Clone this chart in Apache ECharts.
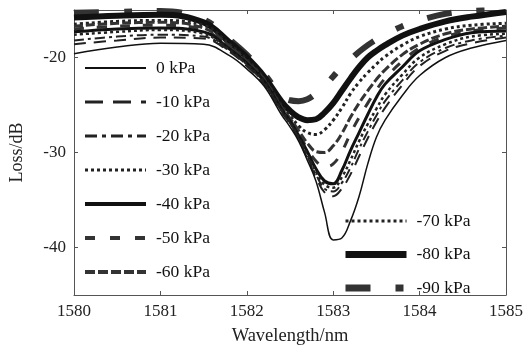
<!DOCTYPE html>
<html>
<head>
<meta charset="utf-8">
<script src="https://cdn.jsdelivr.net/npm/echarts@6/dist/echarts.min.js"></script>
<style>
  html, body { margin: 0; padding: 0; background: #fff; }
  #chart { width: 528px; height: 351px; }
</style>
</head>
<body>
<div id="chart"></div>
<script>
// wavelength points (nm), shared by all curves
const wavelength = [1580, 1580.5, 1581, 1581.5, 1581.8, 1582.0, 1582.2, 1582.4, 1582.5, 1582.6, 1582.7, 1582.8, 1582.9, 1583.0,
  1583.1, 1583.2, 1583.3, 1583.4, 1583.5, 1583.6, 1583.8, 1584.0, 1584.3, 1584.6, 1585];

// loss (dB), one array per pressure
const loss0 = [-19.6, -18.9, -18.5, -18.6, -19.8, -21.2, -23.0, -26.0, -27.3, -28.8, -30.8, -33.0, -36.3, -39.2,
  -39.0, -37.2, -34.6, -31.2, -28.4, -26.6, -24.0, -21.9, -20.0, -19.0, -18.2];
const loss10 = [-18.6, -18.2, -17.9, -18.0, -19.4, -20.9, -22.8, -25.7, -27.0, -28.6, -30.6, -32.6, -34.2, -34.6,
  -33.8, -32.3, -30.4, -28.5, -26.8, -25.3, -22.9, -20.9, -19.3, -18.5, -17.9];
const loss20 = [-18.2, -17.8, -17.6, -17.8, -19.3, -20.8, -22.7, -25.6, -26.9, -28.5, -30.4, -32.3, -33.8, -34.1,
  -33.2, -31.6, -29.6, -27.8, -26.1, -24.6, -22.4, -20.5, -19.0, -18.2, -17.7];
const loss30 = [-17.6, -17.3, -17.1, -17.5, -19.2, -20.7, -22.6, -25.5, -26.8, -28.4, -30.2, -32.0, -33.4, -33.7,
  -32.6, -30.8, -28.8, -27.0, -25.4, -23.9, -21.8, -20.0, -18.6, -17.8, -17.5];
const loss40 = [-17.3, -17.0, -16.9, -17.3, -19.1, -20.6, -22.5, -25.4, -26.7, -28.2, -29.9, -31.7, -33.0, -33.3,
  -31.9, -29.8, -27.9, -26.0, -24.2, -22.8, -21.0, -19.3, -18.1, -17.4, -17.2];
const loss50 = [-17.0, -16.7, -16.6, -17.1, -19.0, -20.5, -22.4, -25.3, -26.6, -28.0, -29.6, -30.9, -31.5, -31.2,
  -29.9, -28.0, -26.3, -24.8, -23.4, -22.2, -20.4, -19.0, -17.8, -17.2, -16.9];
const loss60 = [-16.7, -16.4, -16.3, -16.9, -18.8, -20.4, -22.3, -25.2, -26.4, -27.7, -29.0, -29.9, -30.0, -29.3,
  -28.0, -26.3, -24.8, -23.5, -22.3, -21.3, -19.7, -18.6, -17.5, -17.0, -16.7];
const loss70 = [-16.5, -16.2, -16.1, -16.6, -18.6, -20.2, -22.2, -25.0, -26.1, -27.2, -27.9, -28.1, -27.6, -26.6,
  -25.3, -23.8, -22.6, -21.6, -20.7, -19.9, -18.7, -17.8, -17.0, -16.6, -16.4];
const loss80 = [-15.8, -15.6, -15.5, -16.3, -18.4, -20.0, -22.0, -24.6, -25.6, -26.3, -26.6, -26.5, -25.8, -24.8,
  -23.5, -22.2, -21.0, -20.0, -19.3, -18.7, -17.7, -17.0, -16.2, -15.7, -15.2];
const loss90 = [-15.3, -15.2, -15.1, -16.0, -18.1, -19.7, -21.7, -24.0, -24.5, -24.6, -24.4, -23.8, -23.0, -22.0,
  -21.0, -20.2, -19.4, -18.7, -18.1, -17.6, -16.7, -16.1, -15.4, -15.1, -15.0];

const names = ['0 kPa', '-10 kPa', '-20 kPa', '-30 kPa', '-40 kPa', '-50 kPa', '-60 kPa', '-70 kPa', '-80 kPa', '-90 kPa'];
const lossData = [loss0, loss10, loss20, loss30, loss40, loss50, loss60, loss70, loss80, loss90];
const yTicks = [-40, -30, -20];

// line look for each curve (solid, dashed, dash-dot, dotted ...)
const lineLook = [
  { width: 1.5, type: 'solid', color: '#111' },
  { width: 2, type: [12, 8], color: '#222' },
  { width: 2, type: [10, 4, 3, 4], color: '#222' },
  { width: 2.5, type: [3, 3], color: '#222' },
  { width: 3, type: 'solid', color: '#111' },
  { width: 3, type: [10, 13], color: '#333' },
  { width: 3, type: [9, 3], color: '#333' },
  { width: 3, type: [3, 3], color: '#222' },
  { width: 6, type: 'solid', color: '#111' },
  { width: 6, type: [25, 25, 8, 25], color: '#333' }
];
// the legend draws its sample lines a bit heavier than the curves
const legendLook = [
  { width: 2, type: 'solid' },
  { width: 3, type: [18, 10] },
  { width: 3, type: [12, 5, 4, 5] },
  { width: 3, type: [3, 3] },
  { width: 4, type: 'solid' },
  { width: 4, type: [10, 15] },
  { width: 4, type: [10, 3] },
  { width: 3, type: [3, 3] },
  { width: 7, type: 'solid' },
  { width: 7, type: [25, 25, 8, 25] }
];

const serif = 'Liberation Serif';
const chart = echarts.init(document.getElementById('chart'), null, { renderer: 'canvas' });

const series = names.map(function (n, i) {
  return {
    name: n,
    type: 'line',
    data: wavelength.map(function (w, j) { return [w, lossData[i][j]]; }),
    smooth: 0.4,
    symbol: 'none',
    lineStyle: lineLook[i],
    // no marker in the legend, just the line
    itemStyle: { color: lineLook[i].color, opacity: 0 },
    z: 10 - i
  };
});

const legendItems = names.map(function (n, i) {
  return { name: n, lineStyle: legendLook[i] };
});

const legendBase = {
  orient: 'vertical',
  itemWidth: 61,
  itemHeight: 14,
  itemGap: 16,
  padding: 0,
  textStyle: { fontFamily: serif, fontSize: 17.5, color: '#111', padding: [0, 0, 0, 5] }
};

chart.setOption({
  animation: false,
  backgroundColor: '#fff',
  grid: { left: 72, right: 22, top: 10, bottom: 52 },
  legend: [
    Object.assign({}, legendBase, { left: 83, top: 59, data: legendItems.slice(0, 7) }),
    Object.assign({}, legendBase, { left: 342, top: 212, itemGap: 15.5, data: legendItems.slice(7) })
  ],
  xAxis: [
    {
      type: 'value', min: 1580, max: 1585, interval: 1, position: 'bottom',
      name: 'Wavelength/nm', nameLocation: 'middle', nameGap: 32,
      nameTextStyle: { fontFamily: serif, fontSize: 18.5, color: '#222' },
      axisLine: { lineStyle: { color: '#555', width: 1 } },
      axisTick: { inside: true, length: 4, lineStyle: { color: '#555' } },
      axisLabel: { fontFamily: serif, fontSize: 17, color: '#222', margin: 8, formatter: function (v) { return String(v); } },
      splitLine: { show: false }
    },
    {
      type: 'value', min: 1580, max: 1585, interval: 1, position: 'top',
      axisLine: { lineStyle: { color: '#555', width: 1 } },
      axisTick: { inside: true, length: 4, lineStyle: { color: '#555' } },
      axisLabel: { show: false },
      splitLine: { show: false }
    }
  ],
  yAxis: [
    {
      type: 'value', min: -45, max: -15, position: 'left',
      name: 'Loss/dB', nameLocation: 'middle', nameGap: 48,
      nameTextStyle: { fontFamily: serif, fontSize: 18, color: '#222' },
      axisLine: { show: true, lineStyle: { color: '#555', width: 1 } },
      axisTick: { show: true, inside: true, length: 4, customValues: yTicks, lineStyle: { color: '#555' } },
      axisLabel: { fontFamily: serif, fontSize: 17, color: '#222', margin: 8, customValues: yTicks },
      splitLine: { show: false }
    },
    {
      type: 'value', min: -45, max: -15, position: 'right',
      axisLine: { show: true, lineStyle: { color: '#555', width: 1 } },
      axisTick: { show: true, inside: true, length: 4, customValues: yTicks, lineStyle: { color: '#555' } },
      axisLabel: { show: false, customValues: yTicks },
      splitLine: { show: false }
    }
  ],
  series: series
});
</script>
</body>
</html>
